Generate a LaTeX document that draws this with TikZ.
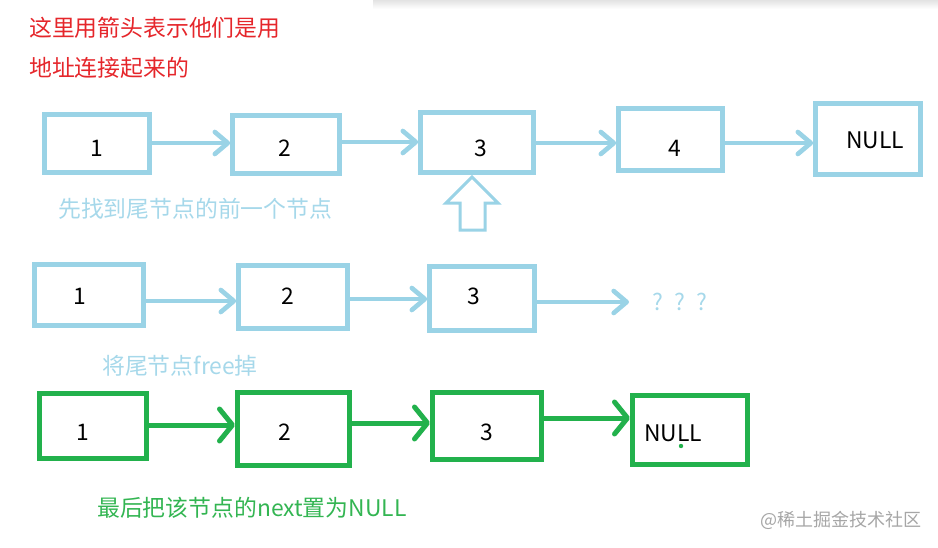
\documentclass[tikz,border=0pt]{standalone}
\usepackage{fontspec}
\setmainfont{Noto Sans CJK SC}
\usetikzlibrary{arrows.meta}
\definecolor{linkblue}{HTML}{9AD3E6}
\definecolor{noteblue}{HTML}{A6D8EA}
\definecolor{linkgreen}{HTML}{22B14C}
\definecolor{notegreen}{HTML}{33B552}
\definecolor{notered}{HTML}{E5262B}

\begin{document}
\begin{tikzpicture}[x=0.3mm, y=-0.3mm,
    txt/.style={inner sep=0pt, font=\fontsize{19.5}{23}\selectfont},
    bluebox/.style={draw=linkblue, line width=1.4mm, inner sep=0pt},
    greenbox/.style={draw=linkgreen, line width=1.5mm, inner sep=0pt},
    bluelink/.style={draw=linkblue, line width=1.4mm, -{Straight Barb[length=3.9mm, width=6.6mm, round]}},
    greenlink/.style={draw=linkgreen, line width=1.5mm, -{Straight Barb[length=3.9mm, width=9.6mm, round]}}]
    \useasboundingbox (0,0) rectangle (938,547);
    \shade[top color=gray!22, bottom color=white] (373,0) rectangle (938,9);

    % Note
    \node[txt, text=notered, anchor=west] (note1) at (29,28) {这里用箭头表示他们是用};
    \node[txt, text=notered, anchor=west] (note2) at (29,68) {地址连接起来的};

    % Row 1
    \node[bluebox, minimum width=31.5mm, minimum height=17.4mm] (a1) at (97,143.5) {};
    \node[txt] (a1-n) at (97,148) {1};
    \node[bluebox, minimum width=32.1mm, minimum height=17.4mm] (a2) at (286,144.5) {};
    \node[txt] (a2-n) at (285,148) {2};
    \node[bluebox, minimum width=33.9mm, minimum height=18mm] (a3) at (477,142.5) {};
    \node[txt] (a3-n) at (481,148) {3};
    \node[bluebox, minimum width=31.2mm, minimum height=18.6mm] (a4) at (670.5,139.5) {};
    \node[txt] (a4-n) at (675,148) {4};
    \node[bluebox, minimum width=31.5mm, minimum height=21.3mm] (a5) at (868,139) {};
    \node[txt] (a5-n) at (875,140) {NULL};
    \draw[bluelink] (a1.east |- 0,143) -- (a2.west |- 0,143);
    \draw[bluelink] (a2.east |- 0,142) -- (a3.west |- 0,142);
    \draw[bluelink] (a3.east |- 0,143) -- (a4.west |- 0,143);
    \draw[bluelink] (a4.east |- 0,143) -- (a5.west |- 0,143);
    \draw[linkblue, line width=0.9mm, fill=white] (472,177) -- (498,203) -- (485,203) -- (485,230)
        -- (460,230) -- (460,203) -- (446,203) -- cycle;
    \node[txt, text=noteblue, anchor=west] (step1) at (58,209) {先找到尾节点的前一个节点};

    % Row 2
    \node[bluebox, minimum width=32.7mm, minimum height=18.3mm] (b1) at (89,295) {};
    \node[txt] (b1-n) at (80,296) {1};
    \node[bluebox, minimum width=32.7mm, minimum height=18.9mm] (b2) at (293,297) {};
    \node[txt] (b2-n) at (288,296) {2};
    \node[bluebox, minimum width=31.5mm, minimum height=19.2mm] (b3) at (482,298.5) {};
    \node[txt] (b3-n) at (474,296) {3};
    \coordinate (b-end) at (629,302);
    \node[txt, text=noteblue] (b-q) at (680,302) {?\hspace{0.5em}?\hspace{0.5em}?};
    \draw[bluelink] (b1.east |- 0,301) -- (b2.west |- 0,301);
    \draw[bluelink] (b2.east |- 0,299) -- (b3.west |- 0,299);
    \draw[bluelink] (b3.east |- b-end) -- (b-end);
    \node[txt, text=noteblue, anchor=west] (step2) at (102,366) {将尾节点free掉};

    % Row 3
    \node[greenbox, minimum width=32.1mm, minimum height=19.5mm] (c1) at (93,426) {};
    \node[txt] (c1-n) at (83,432) {1};
    \node[greenbox, minimum width=33.6mm, minimum height=21.9mm] (c2) at (293.5,429) {};
    \node[txt] (c2-n) at (285,432) {2};
    \node[greenbox, minimum width=32.7mm, minimum height=20.1mm] (c3) at (487,426) {};
    \node[txt] (c3-n) at (487,432) {3};
    \node[greenbox, minimum width=34.5mm, minimum height=20.7mm] (c4) at (690,430) {};
    \node[txt] (c4-n) at (673,433) {NULL};
    \fill[linkgreen] (681,446) circle (2.2);
    \draw[greenlink] (c1.east |- 0,425) -- (c2.west |- 0,425);
    \draw[greenlink] (c2.east |- 0,423) -- (c3.west |- 0,423);
    \draw[greenlink] (c3.east |- 0,418) -- (c4.west |- 0,418);
    \node[txt, text=notegreen, anchor=west] (step3) at (97,508) {最后把该节点的next置为NULL};

    \node[inner sep=0pt, text=gray!70, font=\fontsize{15.4}{18}\selectfont, anchor=west] (mark) at (760,520) {@稀土掘金技术社区};
\end{tikzpicture}
\end{document}
